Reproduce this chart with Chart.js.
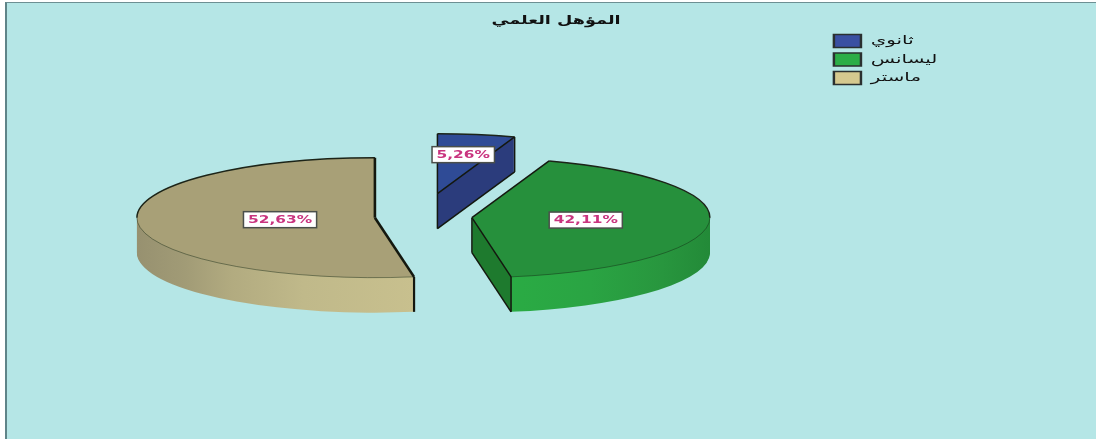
<!DOCTYPE html>
<html lang="ar">
<head>
<meta charset="utf-8">
<title>المؤهل العلمي</title>
<script src="https://cdn.jsdelivr.net/npm/chart.js@4"></script>
<style>
  html, body { margin: 0; padding: 0; background: #fff; overflow: hidden; }
  #frame {
    position: absolute; left: 5px; top: 2px; right: 0; bottom: 0;
    background: #b5e6e6;
    border-left: 2px solid #5f8488;
    border-top: 1px solid #6d8f93;
  }
  #pie { position: absolute; left: 0; top: 0; }
</style>
</head>
<body>
<div id="frame"></div>
<canvas id="pie" width="1096" height="439"></canvas>
<script>
const titleText = "المؤهل العلمي";
const categories = ["ثانوي", "ليسانس", "ماستر"];
const percentages = [5.26, 42.11, 52.63];

const legendColors = ["#3a50a2", "#2bae47", "#d5c98f"];
const topColors = ["#2f4b96", "#26903c", "#a8a077"];
const wallStops = [
  [[0, "#2b3c7c"], [1, "#2b3c7c"]],
  [[0, "#1e7a2e"], [0.582, "#1e7a2e"], [0.583, "#2aab44"], [0.75, "#2aa443"], [0.9, "#28963e"], [1, "#238a38"]],
  [[0, "#979170"], [0.1, "#a19b76"], [0.2, "#b2ab80"], [0.35, "#c0b98a"], [0.583, "#c8c08e"], [1, "#c8c08e"]],
];

// how far each slice is pulled out of the pie, in pixels
const sliceShift = [[14, -24], [48.5, 0], [-48.5, 0]];
// where the value label sits along the slice's middle radius
const labelRadius = [0.66, 0.48, 0.4];

const PIE_RADIUS = 238;
const TILT = 0.252;
const DEPTH = 35;
const TITLE_STRETCH = 1.47;
const LEGEND_STRETCH = 1.65;
const VALUE_STRETCH = 1.4;

function formatPercent(v) {
  return v.toFixed(2).replace(".", ",") + "%";
}

function paintArc(ctx, arc, fill, dx, dy) {
  ctx.save();
  ctx.translate(arc.x + dx, arc.y + dy);
  ctx.scale(1, TILT);
  ctx.translate(-arc.x, -arc.y);
  const saved = arc.options;
  arc.options = { ...saved, backgroundColor: fill, borderWidth: 0 };
  arc.draw(ctx);
  arc.options = saved;
  ctx.restore();
}

function strokeLine(ctx, x1, y1, x2, y2, width) {
  ctx.lineWidth = width;
  ctx.strokeStyle = "#14180f";
  ctx.beginPath();
  ctx.moveTo(x1, y1);
  ctx.lineTo(x2, y2);
  ctx.stroke();
}

function strokeRim(ctx, cx, cy, R, from, to, width, color) {
  if (to <= from) return;
  ctx.lineWidth = width;
  ctx.strokeStyle = color;
  ctx.beginPath();
  ctx.ellipse(cx, cy, R, R * TILT, 0, from, to);
  ctx.stroke();
}

function drawSlice(ctx, arc, i) {
  const [dx, dy] = sliceShift[i];
  const R = arc.outerRadius;
  const cx = arc.x + dx;
  const cy = arc.y + dy;
  const s = arc.startAngle;
  const e = arc.endAngle;

  // side wall: the same arc stacked downward, then the top face over it
  const wall = ctx.createLinearGradient(arc.x - R, 0, arc.x + R, 0);
  wallStops[i].forEach(([pos, color]) => wall.addColorStop(pos, color));
  for (let d = DEPTH; d > 0; d--) paintArc(ctx, arc, wall, dx, dy + d);
  paintArc(ctx, arc, topColors[i], dx, dy);

  const sx = cx + Math.cos(s) * R;
  const sy = cy + Math.sin(s) * R * TILT;
  const ex = cx + Math.cos(e) * R;
  const ey = cy + Math.sin(e) * R * TILT;

  // rim: dark on the far side, faint on the near side
  const halfPi = Math.PI / 2;
  strokeRim(ctx, cx, cy, R, Math.max(s, -halfPi), Math.min(e, 0), 1.5, "#1c2418");
  strokeRim(ctx, cx, cy, R, Math.max(s, 0), Math.min(e, Math.PI), 1, "rgba(20,40,20,0.45)");
  strokeRim(ctx, cx, cy, R, Math.max(s, Math.PI), Math.min(e, 3 * halfPi), 1.5, "#1c2418");

  const width = e > Math.PI ? 2.6 : 1.5;
  strokeLine(ctx, cx, cy, sx, sy, width);
  strokeLine(ctx, cx, cy, ex, ey, width);

  if (e < Math.PI) {
    // the cut face on the end side of the slice is visible
    strokeLine(ctx, cx, cy, cx, cy + DEPTH, 1.5);
    strokeLine(ctx, ex, ey, ex, ey + DEPTH, 1.5);
    strokeLine(ctx, cx, cy + DEPTH, ex, ey + DEPTH, 1.5);
  } else {
    strokeLine(ctx, sx, sy, sx, sy + DEPTH, 2.2);
  }
}

function drawValueLabel(ctx, arc, i) {
  const [dx, dy] = sliceShift[i];
  const mid = (arc.startAngle + arc.endAngle) / 2;
  const x = arc.x + dx + Math.cos(mid) * arc.outerRadius * labelRadius[i];
  const y = arc.y + dy + Math.sin(mid) * arc.outerRadius * TILT * labelRadius[i];
  const text = formatPercent(percentages[i]);

  ctx.save();
  ctx.font = 'bold 11px "DejaVu Sans"';
  const w = ctx.measureText(text).width * VALUE_STRETCH + 9;
  ctx.fillStyle = "#fff";
  ctx.fillRect(x - w / 2, y - 8, w, 16);
  ctx.lineWidth = 1.5;
  ctx.strokeStyle = "#4a4f4a";
  ctx.strokeRect(x - w / 2, y - 8, w, 16);
  ctx.translate(x, y);
  ctx.scale(VALUE_STRETCH, 1);
  ctx.fillStyle = "#c9347f";
  ctx.textAlign = "center";
  ctx.textBaseline = "middle";
  ctx.fillText(text, 0, 0.5);
  ctx.restore();
}

// widen a layout box's text by wrapping its draw call
function stretchBox(ctx, box, getOrigin, targetX, targetY, factor) {
  const draw = box.draw.bind(box);
  box.draw = function (area) {
    ctx.save();
    ctx.translate(targetX(), targetY);
    ctx.scale(factor, 1);
    ctx.translate(-getOrigin(), 0);
    draw(area);
    ctx.restore();
  };
}

const extrudedPie = {
  id: "extrudedPie",
  beforeDraw(chart) {
    if (chart.$stretched) return;
    chart.$stretched = true;
    const ctx = chart.ctx;
    const title = chart.titleBlock;
    const legend = chart.legend;
    stretchBox(ctx, title, () => (title.left + title.right) / 2, () => 556, 0, TITLE_STRETCH);
    stretchBox(ctx, legend, () => legend.left, () => legend.left, 29, LEGEND_STRETCH);
  },
  beforeDatasetDraw(chart, args) {
    const ctx = chart.ctx;
    const arcs = chart.getDatasetMeta(args.index).data;
    arcs.forEach((arc, i) => drawSlice(ctx, arc, i));
    arcs.forEach((arc, i) => drawValueLabel(ctx, arc, i));
    return false;
  },
};

new Chart(document.getElementById("pie"), {
  type: "pie",
  plugins: [extrudedPie],
  data: {
    labels: categories,
    datasets: [
      {
        data: percentages,
        backgroundColor: legendColors,
        borderColor: "#2a3030",
        borderWidth: 1.5,
        clip: false,
      },
    ],
  },
  options: {
    responsive: false,
    animation: false,
    events: [],
    radius: PIE_RADIUS,
    layout: { padding: { left: 22, right: 193, top: 0, bottom: 38 } },
    plugins: {
      tooltip: { enabled: false },
      title: {
        display: true,
        text: titleText,
        color: "#111",
        font: { family: '"DejaVu Sans"', size: 12, weight: "bold" },
        padding: { top: 14, bottom: 6 },
      },
      legend: {
        position: "right",
        align: "start",
        labels: {
          boxWidth: 16.4,
          boxHeight: 13,
          padding: 5.5,
          color: "#111",
          font: { family: '"DejaVu Sans"', size: 12 },
        },
      },
    },
  },
});
</script>
</body>
</html>
